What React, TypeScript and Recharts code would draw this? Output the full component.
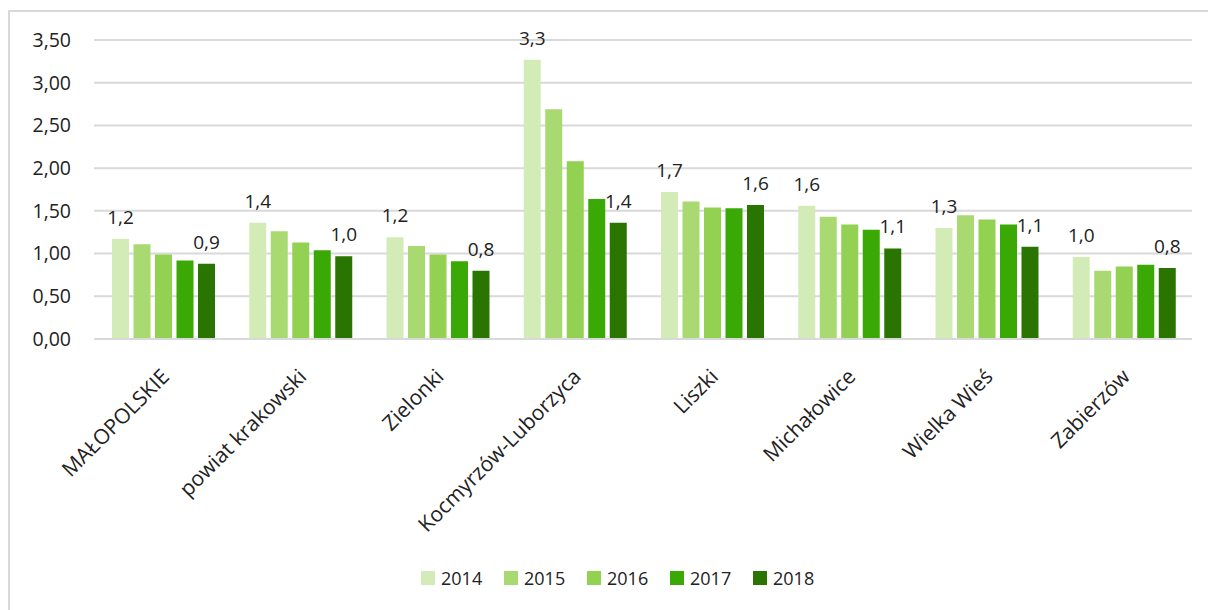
import React from 'react';
import { BarChart, Bar, XAxis, YAxis, CartesianGrid, Legend, LabelList } from 'recharts';

const categories = ['MAŁOPOLSKIE', 'powiat krakowski', 'Zielonki', 'Kocmyrzów-Luborzyca', 'Liszki', 'Michałowice', 'Wielka Wieś', 'Zabierzów'];
const years = ['2014', '2015', '2016', '2017', '2018'];
const v2014 = [1.17, 1.36, 1.19, 3.27, 1.72, 1.56, 1.30, 0.96];
const v2015 = [1.11, 1.26, 1.09, 2.69, 1.61, 1.43, 1.45, 0.80];
const v2016 = [0.99, 1.13, 0.99, 2.08, 1.54, 1.34, 1.40, 0.85];
const v2017 = [0.92, 1.04, 0.91, 1.64, 1.53, 1.28, 1.34, 0.87];
const v2018 = [0.88, 0.97, 0.80, 1.36, 1.57, 1.06, 1.08, 0.83];
const yTicks = [0, 0.5, 1, 1.5, 2, 2.5, 3, 3.5];
const colors = ['#d3ecb7', '#a9da72', '#93d152', '#3aa905', '#2a7402'];

const series = [v2014, v2015, v2016, v2017, v2018];
const data = categories.map((name, i) => {
  const row: Record<string, string | number> = { name };
  years.forEach((y, j) => { row[y] = series[j][i]; });
  return row;
});

const FONT = '"Open Sans", sans-serif';

const fmtTick = (v: number) => v.toFixed(2).replace('.', ',');
const fmtLabel = (v: number) => Number(v).toFixed(1).replace('.', ',');

const XTick = (props: any) => {
  const { x, y, payload } = props;
  return (
    <g transform={`translate(${x + 8},${y + 31})`}>
      <text transform="rotate(-45)" textAnchor="end" fontSize={21} fontFamily={FONT} fill="#222">
        {payload.value}
      </text>
    </g>
  );
};

const LegendContent = () => (
  <div style={{ display: 'flex', alignItems: 'center', fontFamily: FONT, fontSize: 18, color: '#222' }}>
    {years.map((y, i) => (
      <div key={y} style={{ display: 'flex', alignItems: 'center', width: 83 }}>
        <div style={{ width: 14, height: 14, background: colors[i], marginRight: 6 }} />
        <span>{y}</span>
      </div>
    ))}
  </div>
);

export default function App() {
  return (
    <div style={{ position: 'absolute', left: 0, top: 0, width: 1208, height: 610, overflow: 'hidden', background: '#fff' }}>
      <div style={{ position: 'absolute', left: 8, top: 10, width: 1300, height: 700, border: '2px solid #d9d9d9', boxSizing: 'border-box' }} />
      <div style={{ position: 'absolute', left: 0, top: 0 }}>
        <BarChart
          width={1208}
          height={610}
          data={data}
          margin={{ top: 40, right: 16, left: 0, bottom: 171 }}
          barCategoryGap={18}
          barGap={4.5}
        >
          <CartesianGrid vertical={false} stroke="#d9d9d9" strokeWidth={2} />
          <XAxis
            dataKey="name"
            interval={0}
            height={100}
            tickLine={false}
            axisLine={{ stroke: '#d9d9d9', strokeWidth: 2 }}
            tick={<XTick />}
          />
          <YAxis
            width={94}
            domain={[0, 3.5]}
            ticks={yTicks}
            tickFormatter={fmtTick}
            axisLine={false}
            tickLine={false}
            tickMargin={17}
            tick={{ fontSize: 19.5, fontFamily: FONT, fill: '#222' }}
          />
          <Legend
            layout="horizontal"
            verticalAlign="middle"
            align="center"
            wrapperStyle={{ top: 566, left: 421, width: 430 }}
            content={<LegendContent />}
          />
          {years.map((y, i) => (
            <Bar key={y} dataKey={y} fill={colors[i]} isAnimationActive={false}>
              {(i === 0 || i === years.length - 1) && (
                <LabelList
                  dataKey={y}
                  position="top"
                  offset={15}
                  formatter={fmtLabel}
                  style={{ fontSize: 19, fontFamily: FONT, fill: '#222' }}
                />
              )}
            </Bar>
          ))}
        </BarChart>
      </div>
    </div>
  );
}
